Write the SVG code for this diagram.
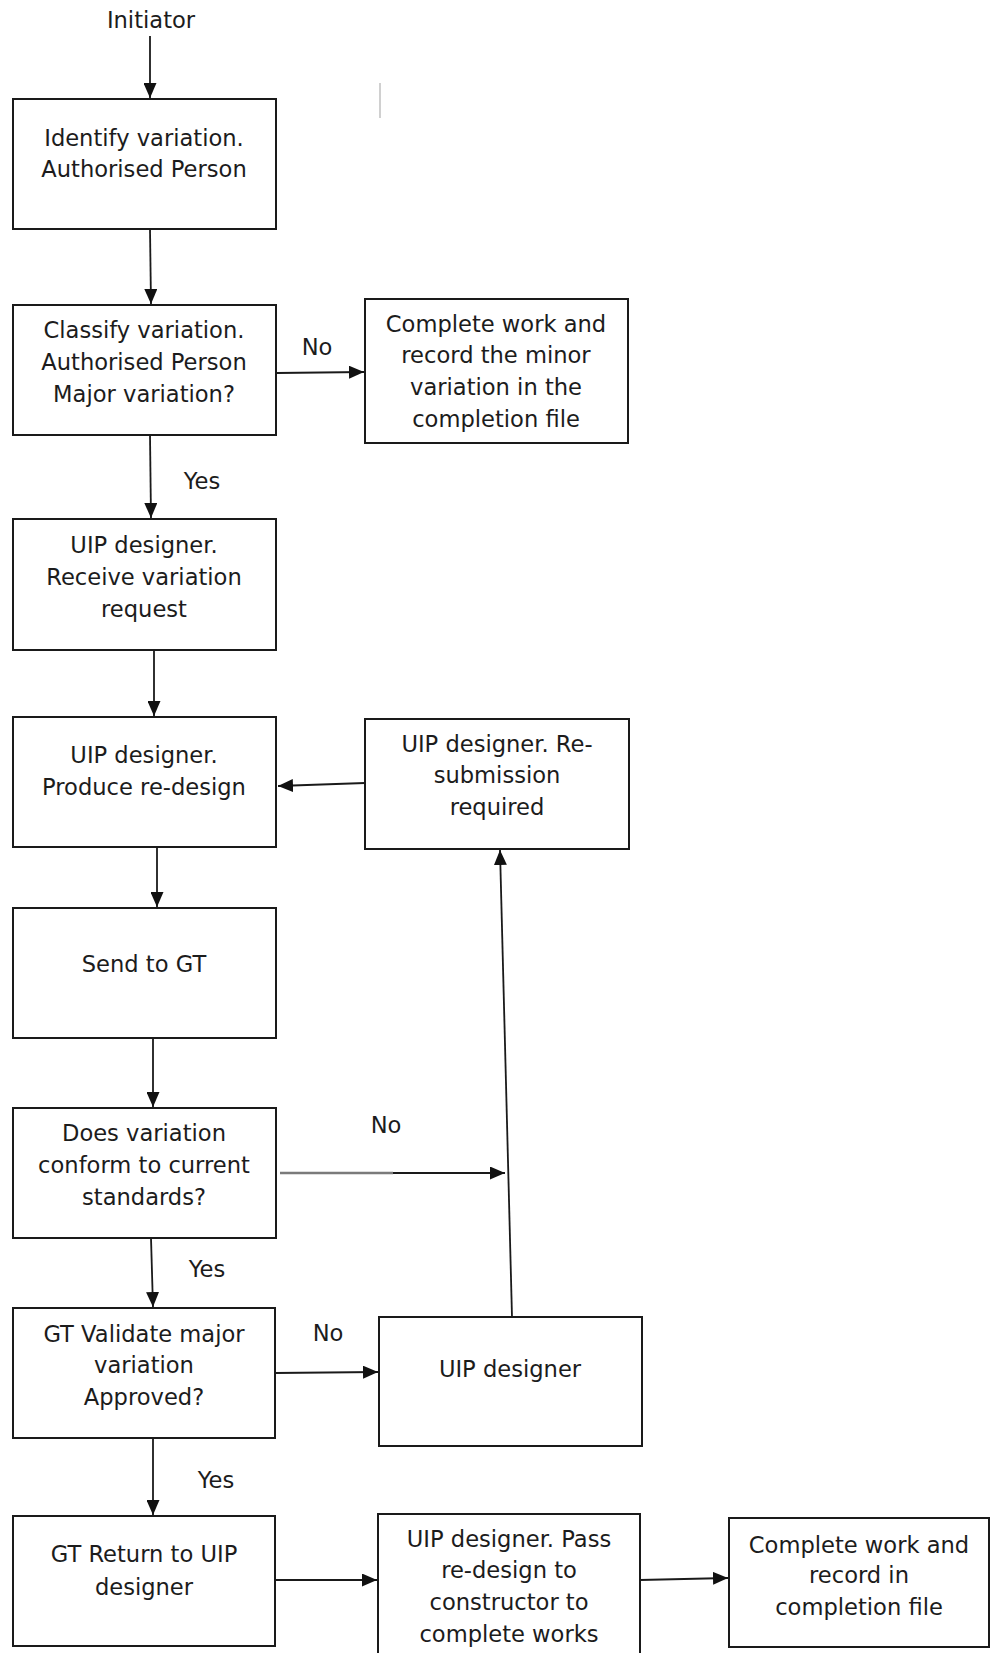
<svg xmlns="http://www.w3.org/2000/svg" width="991" height="1653" viewBox="0 0 991 1653">
  <style>
    .box { fill: #ffffff; stroke: #1a1a1a; stroke-width: 2; }
    .lbl { font-family: "DejaVu Sans", Verdana, sans-serif; font-size: 22.6px; fill: #1c1c1c; text-anchor: middle; }
    .edge { fill: none; stroke: #1a1a1a; stroke-width: 1.8; marker-end: url(#arrow); }
    .plain { fill: none; stroke: #1a1a1a; stroke-width: 1.8; }
  </style>
  <defs>
    <marker id="arrow" markerUnits="userSpaceOnUse" markerWidth="15" markerHeight="13" refX="15" refY="6.5" orient="auto">
      <path d="M0,0 L15,6.5 L0,13 z" fill="#111111"/>
    </marker>
  </defs>
  <rect width="991" height="1653" fill="#ffffff"/>

  <!-- stray guide mark -->
  <line x1="380" y1="83" x2="380" y2="118" stroke="#d0d0d0" stroke-width="2"/>

  <text id="initiator" class="lbl" x="151" y="28">Initiator</text>

  <g id="identify">
    <rect class="box" x="13" y="99" width="263" height="130"/>
    <text class="lbl" x="144" y="146">Identify variation.</text>
    <text class="lbl" x="144" y="177">Authorised Person</text>
  </g>

  <g id="classify">
    <rect class="box" x="13" y="305" width="263" height="130"/>
    <text class="lbl" x="144" y="338">Classify variation.</text>
    <text class="lbl" x="144" y="370">Authorised Person</text>
    <text class="lbl" x="144" y="402">Major variation?</text>
  </g>

  <g id="minor-complete">
    <rect class="box" x="365" y="299" width="263" height="144"/>
    <text class="lbl" x="496" y="332">Complete work and</text>
    <text class="lbl" x="496" y="363">record the minor</text>
    <text class="lbl" x="496" y="395">variation in the</text>
    <text class="lbl" x="496" y="427">completion file</text>
  </g>

  <g id="receive">
    <rect class="box" x="13" y="519" width="263" height="131"/>
    <text class="lbl" x="144" y="553">UIP designer.</text>
    <text class="lbl" x="144" y="585">Receive variation</text>
    <text class="lbl" x="144" y="617">request</text>
  </g>

  <g id="redesign">
    <rect class="box" x="13" y="717" width="263" height="130"/>
    <text class="lbl" x="144" y="763">UIP designer.</text>
    <text class="lbl" x="144" y="795">Produce re-design</text>
  </g>

  <g id="resubmission">
    <rect class="box" x="365" y="719" width="264" height="130"/>
    <text class="lbl" x="497" y="752">UIP designer. Re-</text>
    <text class="lbl" x="497" y="783">submission</text>
    <text class="lbl" x="497" y="815">required</text>
  </g>

  <g id="send-gt">
    <rect class="box" x="13" y="908" width="263" height="130"/>
    <text class="lbl" x="144" y="972">Send to GT</text>
  </g>

  <g id="conform">
    <rect class="box" x="13" y="1108" width="263" height="130"/>
    <text class="lbl" x="144" y="1141">Does variation</text>
    <text class="lbl" x="144" y="1173">conform to current</text>
    <text class="lbl" x="144" y="1205">standards?</text>
  </g>

  <g id="validate">
    <rect class="box" x="13" y="1308" width="262" height="130"/>
    <text class="lbl" x="144" y="1342">GT Validate major</text>
    <text class="lbl" x="144" y="1373">variation</text>
    <text class="lbl" x="144" y="1405">Approved?</text>
  </g>

  <g id="uip-designer">
    <rect class="box" x="379" y="1317" width="263" height="129"/>
    <text class="lbl" x="510" y="1377">UIP designer</text>
  </g>

  <g id="return">
    <rect class="box" x="13" y="1516" width="262" height="130"/>
    <text class="lbl" x="144" y="1562">GT Return to UIP</text>
    <text class="lbl" x="144" y="1595">designer</text>
  </g>

  <g id="pass">
    <rect class="box" x="378" y="1514" width="262" height="160"/>
    <text class="lbl" x="509" y="1547">UIP designer. Pass</text>
    <text class="lbl" x="509" y="1578">re-design to</text>
    <text class="lbl" x="509" y="1610">constructor to</text>
    <text class="lbl" x="509" y="1642">complete works</text>
  </g>

  <g id="final-complete">
    <rect class="box" x="729" y="1518" width="260" height="129"/>
    <text class="lbl" x="859" y="1553">Complete work and</text>
    <text class="lbl" x="859" y="1583">record in</text>
    <text class="lbl" x="859" y="1615">completion file</text>
  </g>

  <g id="connectors">
    <line class="edge" x1="150" y1="36" x2="150" y2="98"/>
    <line class="edge" x1="150" y1="229" x2="151" y2="304"/>
    <line class="edge" x1="277" y1="373" x2="364" y2="372"/>
    <line class="edge" x1="150" y1="435" x2="151" y2="518"/>
    <line class="edge" x1="154" y1="650" x2="154" y2="716"/>
    <line class="edge" x1="365" y1="783" x2="278" y2="786"/>
    <line class="edge" x1="157" y1="847" x2="157" y2="907"/>
    <line class="edge" x1="153" y1="1038" x2="153" y2="1107"/>
    <line x1="280" y1="1173" x2="393" y2="1173" stroke="#7a7a7a" stroke-width="2.4"/>
    <line class="edge" x1="393" y1="1173" x2="505" y2="1173"/>
    <line class="edge" x1="512" y1="1317" x2="500" y2="850"/>
    <line class="edge" x1="151" y1="1238" x2="153" y2="1307"/>
    <line class="edge" x1="275" y1="1373" x2="378" y2="1372"/>
    <line class="edge" x1="153" y1="1438" x2="153" y2="1515"/>
    <line class="edge" x1="275" y1="1580" x2="377" y2="1580"/>
    <line class="edge" x1="640" y1="1580" x2="728" y2="1578"/>
    <text class="lbl" x="317" y="355">No</text>
    <text class="lbl" x="202" y="489">Yes</text>
    <text class="lbl" x="386" y="1133">No</text>
    <text class="lbl" x="207" y="1277">Yes</text>
    <text class="lbl" x="328" y="1341">No</text>
    <text class="lbl" x="216" y="1488">Yes</text>
  </g>
</svg>
